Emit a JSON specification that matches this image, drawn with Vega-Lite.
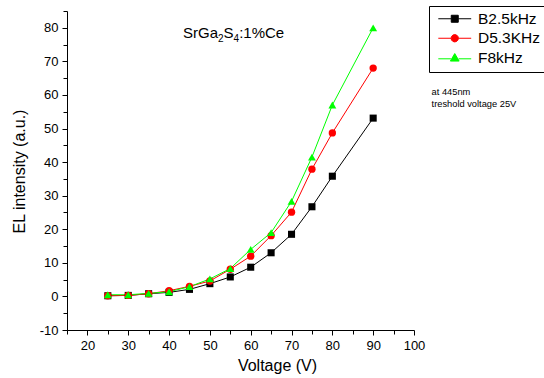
{
  "$schema": "https://vega.github.io/schema/vega-lite/v6.json",
  "width": 347,
  "height": 319,
  "autosize": "none",
  "padding": {"left": 67, "top": 11, "right": 130, "bottom": 48},
  "background": "white",
  "config": {
    "view": {"stroke": null},
    "font": "Liberation Sans",
    "axis": {
      "grid": false,
      "domainColor": "black",
      "domainWidth": 1,
      "tickColor": "black",
      "tickWidth": 1,
      "labelColor": "black",
      "titleColor": "black",
      "labelFont": "Liberation Sans",
      "titleFont": "Liberation Sans",
      "labelFontSize": 13,
      "titleFontSize": 16,
      "titleFontWeight": "normal"
    }
  },
  "datasets": {
    "el": [
      {"series": "B2.5kHz", "v": 25, "i": 0.2},
      {"series": "B2.5kHz", "v": 30, "i": 0.3},
      {"series": "B2.5kHz", "v": 35, "i": 0.8},
      {"series": "B2.5kHz", "v": 40, "i": 1.2},
      {"series": "B2.5kHz", "v": 45, "i": 2.1},
      {"series": "B2.5kHz", "v": 50, "i": 3.8},
      {"series": "B2.5kHz", "v": 55, "i": 5.8},
      {"series": "B2.5kHz", "v": 60, "i": 8.7},
      {"series": "B2.5kHz", "v": 65, "i": 13.0},
      {"series": "B2.5kHz", "v": 70, "i": 18.5},
      {"series": "B2.5kHz", "v": 75, "i": 26.7},
      {"series": "B2.5kHz", "v": 80, "i": 35.8},
      {"series": "B2.5kHz", "v": 90, "i": 53.1},
      {"series": "D5.3KHz", "v": 25, "i": 0.2},
      {"series": "D5.3KHz", "v": 30, "i": 0.3},
      {"series": "D5.3KHz", "v": 35, "i": 0.8},
      {"series": "D5.3KHz", "v": 40, "i": 1.7},
      {"series": "D5.3KHz", "v": 45, "i": 3.0},
      {"series": "D5.3KHz", "v": 50, "i": 4.6},
      {"series": "D5.3KHz", "v": 55, "i": 8.1},
      {"series": "D5.3KHz", "v": 60, "i": 12.0},
      {"series": "D5.3KHz", "v": 65, "i": 18.1},
      {"series": "D5.3KHz", "v": 70, "i": 25.1},
      {"series": "D5.3KHz", "v": 75, "i": 37.9},
      {"series": "D5.3KHz", "v": 80, "i": 48.7},
      {"series": "D5.3KHz", "v": 90, "i": 68.0},
      {"series": "F8kHz", "v": 25, "i": 0.5},
      {"series": "F8kHz", "v": 30, "i": 0.5},
      {"series": "F8kHz", "v": 35, "i": 0.9},
      {"series": "F8kHz", "v": 40, "i": 1.4},
      {"series": "F8kHz", "v": 45, "i": 2.9},
      {"series": "F8kHz", "v": 50, "i": 5.2},
      {"series": "F8kHz", "v": 55, "i": 8.3},
      {"series": "F8kHz", "v": 60, "i": 14.0},
      {"series": "F8kHz", "v": 65, "i": 19.0},
      {"series": "F8kHz", "v": 70, "i": 28.3},
      {"series": "F8kHz", "v": 75, "i": 41.5},
      {"series": "F8kHz", "v": 80, "i": 57.0},
      {"series": "F8kHz", "v": 90, "i": 80.0}
    ],
    "notes": [
      {"v": 43.42, "i": 76.9, "text": "SrGa", "size": 15},
      {"v": 51.99, "i": 75.7, "text": "2", "size": 10},
      {"v": 53.36, "i": 76.9, "text": "S", "size": 15},
      {"v": 55.81, "i": 75.7, "text": "4", "size": 10},
      {"v": 57.18, "i": 76.9, "text": ":1%Ce", "size": 15},
      {"v": 104.3, "i": 60.1, "text": "at 445nm", "size": 9.3},
      {"v": 104.3, "i": 56.3, "text": "treshold voltage 25V", "size": 9.3}
    ]
  },
  "resolve": {"axis": {"x": "independent", "y": "independent"}},
  "layer": [
    {
      "data": {"name": "el"},
      "mark": {"type": "line", "strokeWidth": 1},
      "encoding": {
        "x": {
          "field": "v",
          "type": "quantitative",
          "scale": {"domain": [15, 100], "nice": false, "zero": false},
          "axis": {
            "orient": "bottom",
            "title": "Voltage (V)",
            "values": [20, 30, 40, 50, 60, 70, 80, 90, 100],
            "labelOverlap": false,
            "labelFlush": false,
            "tickSize": 5,
            "labelPadding": 4,
            "titleX": 210,
            "titleY": 40,
            "titleAlign": "center",
            "titleBaseline": "alphabetic"
          }
        },
        "y": {
          "field": "i",
          "type": "quantitative",
          "scale": {"domain": [-10, 85], "nice": false, "zero": false},
          "axis": {
            "orient": "left",
            "title": "EL intensity (a.u.)",
            "values": [-10, 0, 10, 20, 30, 40, 50, 60, 70, 80],
            "labelExpr": "datum.value < 0 ? '-' + abs(datum.value) : datum.label",
            "labelOverlap": false,
            "labelFlush": false,
            "tickSize": 5,
            "labelPadding": 4,
            "titleX": -48,
            "titleY": 160,
            "titleAlign": "center",
            "titleBaseline": "middle"
          }
        },
        "color": {
          "field": "series",
          "type": "nominal",
          "scale": {"domain": ["B2.5kHz", "D5.3KHz", "F8kHz"], "range": ["#000000", "#ff0000", "#00ff00"]},
          "legend": {
            "orient": "none",
            "legendX": 362,
            "legendY": -5,
            "title": null,
            "strokeColor": "black",
            "padding": 5,
            "rowPadding": 2.5,
            "symbolSize": 49,
            "symbolOffset": 13,
            "labelOffset": 15.5,
            "symbolStrokeWidth": 1,
            "labelFontSize": 15.5,
            "labelFont": "Liberation Sans",
            "labelColor": "black",
            "labelLimit": 200,
            "encode": {
              "symbols": {
                "update": {
                  "shape": {"signal": "datum.value === 'B2.5kHz' ? 'M-4.7,0H-1M1,0H4.7M-1,-1H1V1H-1Z' : datum.value === 'D5.3KHz' ? 'M-4.7,0H-1.05M1.05,0H4.7M1.05,0L0.91,0.53L0.53,0.91L0,1.05L-0.53,0.91L-0.91,0.53L-1.05,0L-0.91,-0.53L-0.53,-0.91L0,-1.05L0.53,-0.91L0.91,-0.53Z' : 'M-4.7,0.3H-1.1M1.1,0.3H4.7M0,-1.2L1.25,0.95L-1.25,0.95Z'"},
                  "fill": {"scale": "color", "field": "value"},
                  "stroke": {"scale": "color", "field": "value"},
                  "strokeWidth": {"value": 1},
                  "opacity": {"value": 1},
                  "fillOpacity": {"value": 1},
                  "strokeOpacity": {"value": 1}
                }
              }
            }
          }
        }
      }
    },
    {
      "data": {"name": "el"},
      "transform": [{"filter": "datum.series === 'B2.5kHz'"}],
      "mark": {"type": "point", "shape": "square", "filled": true, "opacity": 1, "size": 50},
      "encoding": {
        "x": {
          "field": "v",
          "type": "quantitative",
          "axis": {
            "orient": "bottom",
            "title": null,
            "labels": false,
            "domain": false,
            "values": [15, 25, 35, 45, 55, 65, 75, 85, 95],
            "tickSize": 4
          }
        },
        "y": {
          "field": "i",
          "type": "quantitative",
          "axis": {
            "orient": "left",
            "title": null,
            "labels": false,
            "domain": false,
            "values": [-5, 5, 15, 25, 35, 45, 55, 65, 75, 85],
            "tickSize": 4
          }
        },
        "color": {"field": "series", "type": "nominal"}
      }
    },
    {
      "data": {"name": "el"},
      "transform": [{"filter": "datum.series === 'D5.3KHz'"}],
      "mark": {"type": "point", "shape": "circle", "filled": true, "opacity": 1, "size": 54},
      "encoding": {
        "x": {"field": "v", "type": "quantitative", "axis": null},
        "y": {"field": "i", "type": "quantitative", "axis": null},
        "color": {"field": "series", "type": "nominal"}
      }
    },
    {
      "data": {"name": "el"},
      "transform": [{"filter": "datum.series === 'F8kHz'"}],
      "mark": {"type": "point", "shape": "triangle-up", "filled": true, "opacity": 1, "size": 62},
      "encoding": {
        "x": {"field": "v", "type": "quantitative", "axis": null},
        "y": {"field": "i", "type": "quantitative", "axis": null},
        "color": {"field": "series", "type": "nominal"}
      }
    },
    {
      "data": {"name": "notes"},
      "mark": {"type": "text", "align": "left", "baseline": "alphabetic", "color": "black", "font": "Liberation Sans"},
      "encoding": {
        "x": {"field": "v", "type": "quantitative", "axis": null},
        "y": {"field": "i", "type": "quantitative", "axis": null},
        "text": {"field": "text"},
        "size": {"field": "size", "type": "quantitative", "scale": null}
      }
    }
  ]
}
